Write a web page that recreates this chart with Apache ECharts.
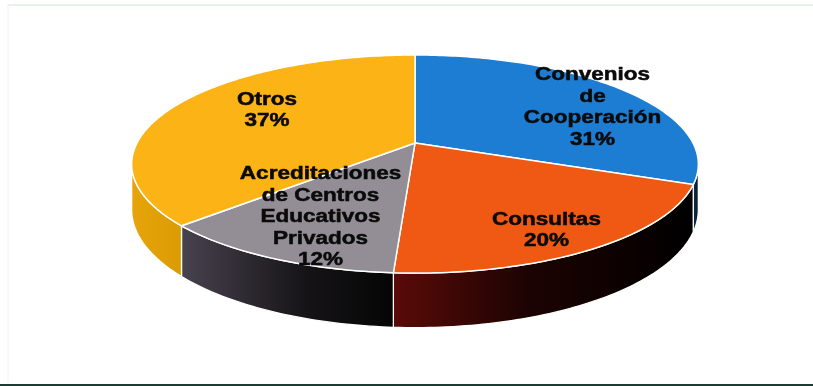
<!DOCTYPE html>
<html>
<head>
<meta charset="utf-8">
<script src="https://cdn.jsdelivr.net/npm/echarts@6/dist/echarts.min.js"></script>
<style>
  html, body { margin: 0; padding: 0; background: #ffffff; }
  #chart { width: 813px; height: 386px; }
</style>
</head>
<body>
<div id="chart"></div>
<script>
// Slice names (as they are broken over lines) and their shares
const categories = [
  'Convenios\nde\nCooperación',
  'Consultas',
  'Acreditaciones\nde Centros\nEducativos\nPrivados',
  'Otros'
];
const values = [31, 20, 12, 37];

// Face colours and side-wall shading per slice
const topColors = ['#1c7dd2', '#ef5913', '#938d95', '#fcb316'];
const sideStops = [
  [['#0d3558', 0], ['#03101c', 1]],
  [['#5a0b08', 0], ['#1c0302', 0.45], ['#000000', 1]],
  [['#48424e', 0], ['#151316', 0.6], ['#050505', 1]],
  [['#e7a40b', 0], ['#db9b02', 1]]
];
// Small label offsets (px) from the computed anchor inside each slice
const labelNudge = [[24, 4], [10, 15], [3, -4], [26, -4]];

// Tilted-disc projection
const CX = 415, CY = 143;      // projected centre of the top face
const RX = 278, RY = 105;      // horizontal / vertical radius
const PERSP = 0.193;           // perspective foreshortening
const DEPTH = 44;              // wall thickness
const SIDE_FROM = Math.acos(-PERSP) * 180 / Math.PI;
const SIDE_TO = 360 - SIDE_FROM;

function proj(deg, r, drop) {
  const t = deg * Math.PI / 180;
  const X = r * Math.sin(t), Y = r * Math.cos(t);
  const w = 1 + PERSP * Y;
  return [CX + RX * X / w, CY - RY * Y / w + drop / w];
}
function arc(from, to, r, drop) {
  const n = Math.max(2, Math.ceil(Math.abs(to - from)) + 1);
  const pts = [];
  for (let k = 0; k < n; k++) pts.push(proj(from + (to - from) * k / (n - 1), r, drop));
  return pts;
}

const total = values.reduce((a, b) => a + b, 0);

function renderItem(params, api) {
  const i = params.dataIndex;
  let before = 0;
  for (let k = 0; k < i; k++) before += values[k];
  const v = api.value(0);
  const a0 = before / total * 360;
  const a1 = (before + v) / total * 360;
  const children = [];

  // visible outer wall
  const s = Math.max(a0, SIDE_FROM), e = Math.min(a1, SIDE_TO);
  if (e > s) {
    const pts = arc(s, e, 1, 0).concat(arc(e, s, 1, DEPTH));
    children.push({
      type: 'polygon',
      z2: 1,
      shape: { points: pts },
      style: {
        fill: new echarts.graphic.LinearGradient(0, 0, 1, 0,
          sideStops[i].map(st => ({ offset: st[1], color: st[0] }))),
        stroke: '#ffffff',
        lineWidth: 1.3
      }
    });
  }

  // top face
  children.push({
    type: 'polygon',
    z2: 2,
    shape: { points: [proj(0, 0, 0)].concat(arc(a0, a1, 1, 0)) },
    style: { fill: topColors[i], stroke: '#ffffff', lineWidth: 1.5 }
  });

  // label
  const mid = (a0 + a1) / 2;
  const p = proj(mid, 0.72, 0);
  const pct = Math.round(v / total * 100);
  children.push({
    type: 'text',
    z2: 100,
    x: p[0] + labelNudge[i][0],
    y: p[1] + labelNudge[i][1],
    scaleX: 1.25,
    style: {
      text: categories[i] + '\n' + pct + '%',
      fill: '#0a0a0a',
      stroke: '#0a0a0a',
      lineWidth: 0.5,
      fontFamily: '"Liberation Sans", Arial, sans-serif',
      fontWeight: 'bold',
      fontSize: 18,
      lineHeight: 21.5,
      align: 'center',
      verticalAlign: 'middle'
    }
  });

  return { type: 'group', children: children };
}

const chart = echarts.init(document.getElementById('chart'), null, { renderer: 'canvas' });
chart.setOption({
  backgroundColor: '#ffffff',
  animation: false,
  graphic: [
    { type: 'line', shape: { x1: 8, y1: 5, x2: 813, y2: 5 }, style: { stroke: '#e2f1e2', lineWidth: 1.5 } },
    { type: 'line', shape: { x1: 8, y1: 5, x2: 8, y2: 383 }, style: { stroke: '#eef2ee', lineWidth: 1 } },
    { type: 'rect', shape: { x: 0, y: 384, width: 813, height: 2 }, style: { fill: '#1b3b33' } }
  ],
  series: [{
    type: 'custom',
    coordinateSystem: 'none',
    renderItem: renderItem,
    data: values.map(v => [v])
  }]
});
</script>
</body>
</html>
